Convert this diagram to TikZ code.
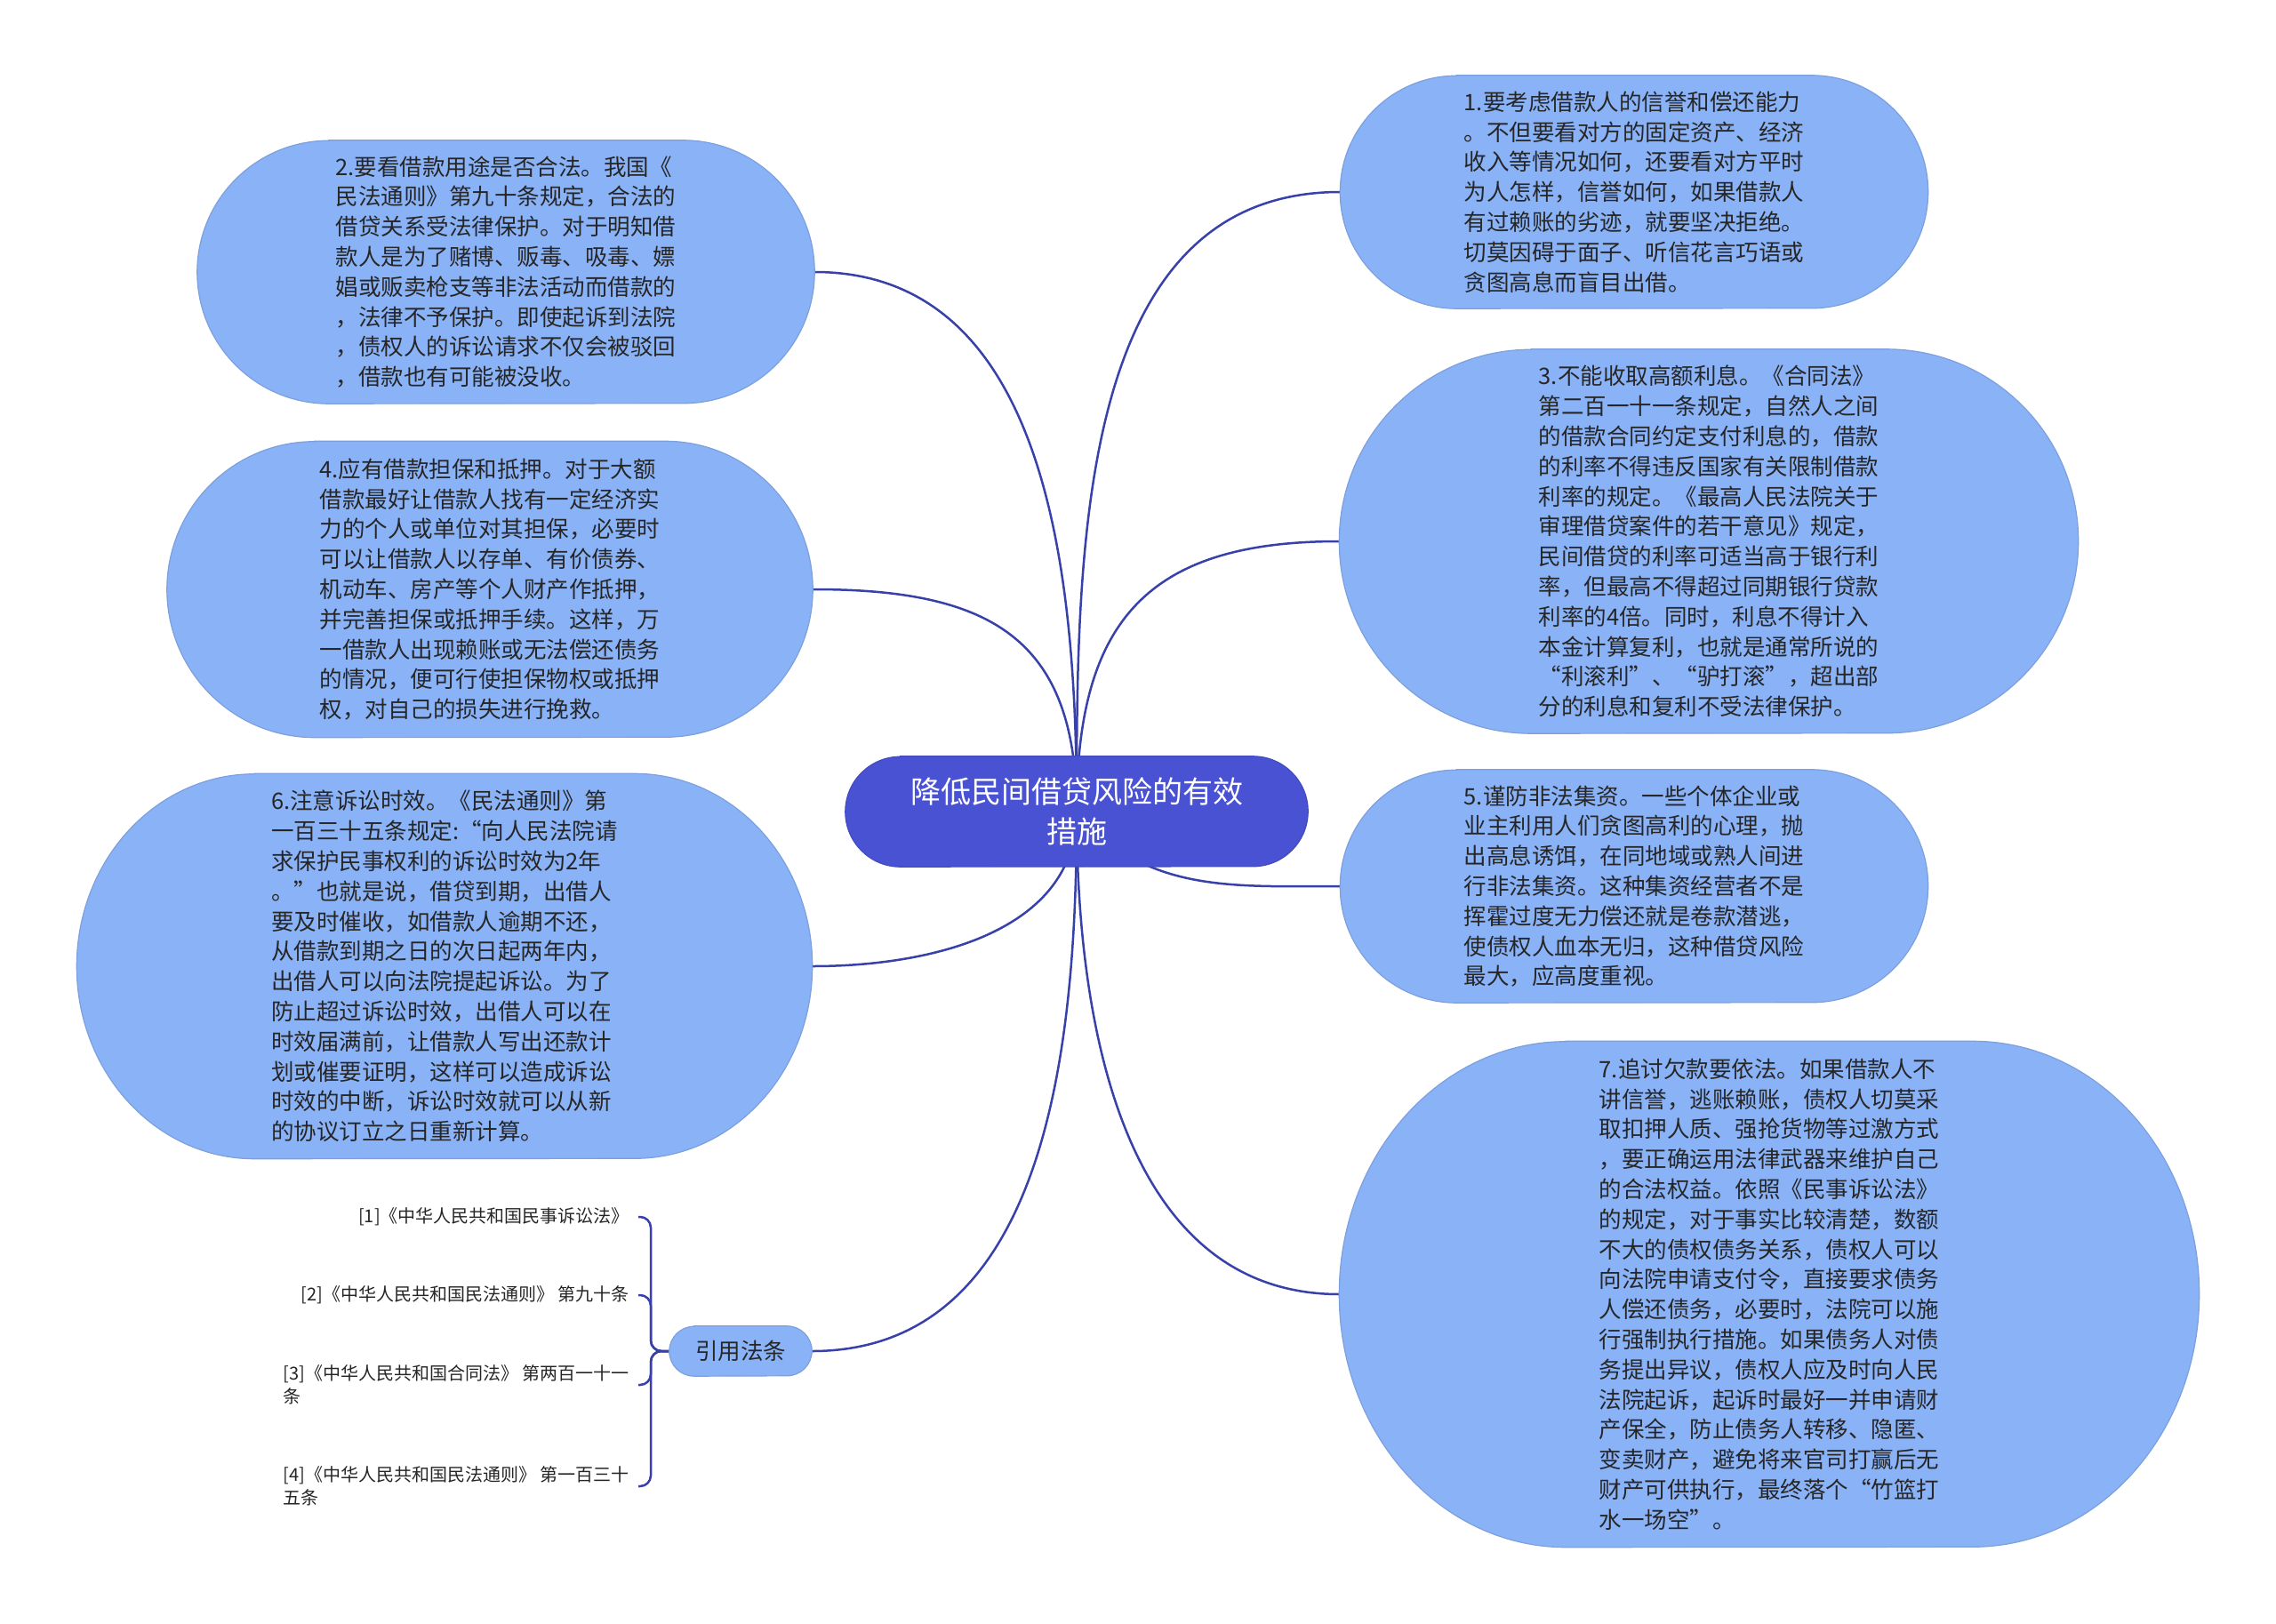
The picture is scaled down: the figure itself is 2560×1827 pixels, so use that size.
\documentclass[tikz,border=0pt]{standalone}
\usepackage{fontspec}
\setmainfont{Noto Sans CJK SC}
\usetikzlibrary{backgrounds}
\definecolor{topicblue}{RGB}{138,178,247}
\definecolor{hubblue}{RGB}{74,82,212}
\definecolor{linkblue}{RGB}{56,64,170}
\definecolor{textgray}{RGB}{38,38,38}
\tikzset{
  link/.style={draw=linkblue, line width=2.5pt},
  topic/.style={rectangle, inner sep=0pt, align=left, text=textgray,
    font=\fontsize{25.5pt}{33.8pt}\selectfont},
  hubnode/.style={rectangle, inner sep=0pt, align=center, text=white,
    font=\fontsize{34pt}{45pt}\selectfont},
  refnote/.style={inner xsep=10pt, inner ysep=2pt, align=left, text=textgray,
    font=\fontsize{20pt}{26pt}\selectfont},
}
\begin{document}
\begin{tikzpicture}[x=1pt, y=1pt]
\useasboundingbox (0,0) rectangle (2560,-1827);

\node[hubnode, minimum width=520pt, minimum height=124pt] (c) at (1211,-913) {降低民间借贷风险的有效\\措施};

% right side
\node[topic, minimum width=661pt, minimum height=262pt] (n1) at (1838,-216) {1.要考虑借款人的信誉和偿还能力\\。不但要看对方的固定资产、经济\\收入等情况如何，还要看对方平时\\为人怎样，信誉如何，如果借款人\\有过赖账的劣迹，就要坚决拒绝。\\切莫因碍于面子、听信花言巧语或\\贪图高息而盲目出借。};
\node[topic, minimum width=831pt, minimum height=432pt] (n3) at (1922,-609) {3.不能收取高额利息。《合同法》\\第二百一十一条规定，自然人之间\\的借款合同约定支付利息的，借款\\的利率不得违反国家有关限制借款\\利率的规定。《最高人民法院关于\\审理借贷案件的若干意见》规定，\\民间借贷的利率可适当高于银行利\\率，但最高不得超过同期银行贷款\\利率的4倍。同时，利息不得计入\\本金计算复利，也就是通常所说的\\“利滚利”、“驴打滚”，超出部\\分的利息和复利不受法律保护。};
\node[topic, minimum width=661pt, minimum height=262pt] (n5) at (1838,-997) {5.谨防非法集资。一些个体企业或\\业主利用人们贪图高利的心理，抛\\出高息诱饵，在同地域或熟人间进\\行非法集资。这种集资经营者不是\\挥霍过度无力偿还就是卷款潜逃，\\使债权人血本无归，这种借贷风险\\最大，应高度重视。};
\node[topic, minimum width=967pt, minimum height=569pt] (n7) at (1990,-1456) {7.追讨欠款要依法。如果借款人不\\讲信誉，逃账赖账，债权人切莫采\\取扣押人质、强抢货物等过激方式\\，要正确运用法律武器来维护自己\\的合法权益。依照《民事诉讼法》\\的规定，对于事实比较清楚，数额\\不大的债权债务关系，债权人可以\\向法院申请支付令，直接要求债务\\人偿还债务，必要时，法院可以施\\行强制执行措施。如果债务人对债\\务提出异议，债权人应及时向人民\\法院起诉，起诉时最好一并申请财\\产保全，防止债务人转移、隐匿、\\变卖财产，避免将来官司打赢后无\\财产可供执行，最终落个“竹篮打\\水一场空”。};

% left side
\node[topic, minimum width=694pt, minimum height=296pt] (n2) at (569,-306) {2.要看借款用途是否合法。我国《\\民法通则》第九十条规定，合法的\\借贷关系受法律保护。对于明知借\\款人是为了赌博、贩毒、吸毒、嫖\\娼或贩卖枪支等非法活动而借款的\\，法律不予保护。即使起诉到法院\\，债权人的诉讼请求不仅会被驳回\\，借款也有可能被没收。};
\node[topic, minimum width=726pt, minimum height=333pt] (n4) at (551,-663) {4.应有借款担保和抵押。对于大额\\借款最好让借款人找有一定经济实\\力的个人或单位对其担保，必要时\\可以让借款人以存单、有价债券、\\机动车、房产等个人财产作抵押，\\并完善担保或抵押手续。这样，万\\一借款人出现赖账或无法偿还债务\\的情况，便可行使担保物权或抵押\\权，对自己的损失进行挽救。};
\node[topic, minimum width=827pt, minimum height=433pt] (n6) at (500,-1087) {6.注意诉讼时效。《民法通则》第\\一百三十五条规定:“向人民法院请\\求保护民事权利的诉讼时效为2年\\。”也就是说，借贷到期，出借人\\要及时催收，如借款人逾期不还，\\从借款到期之日的次日起两年内，\\出借人可以向法院提起诉讼。为了\\防止超过诉讼时效，出借人可以在\\时效届满前，让借款人写出还款计\\划或催要证明，这样可以造成诉讼\\时效的中断，诉讼时效就可以从新\\的协议订立之日重新计算。};
\node[topic, align=center, minimum width=160pt, minimum height=56pt] (cite) at (833,-1520) {引用法条};

% references
\node[refnote, anchor=east] (r1) at (718,-1369) {[1]《中华人民共和国民事诉讼法》};
\node[refnote, anchor=east] (r2) at (718,-1457) {[2]《中华人民共和国民法通则》 第九十条};
\node[refnote, anchor=east] (r3) at (718,-1558) {[3]《中华人民共和国合同法》 第两百一十一\\条};
\node[refnote, anchor=east] (r4) at (718,-1672) {[4]《中华人民共和国民法通则》 第一百三十\\五条};
\coordinate (bar) at (732,-1520);

\begin{scope}[on background layer]
  \fill[white] (0,0) rectangle (2560,-1827);
  \foreach \nm/\dir/\loose in {n1/90/1, n3/90/1.3, n5/-50/1, n7/-90/1}
    \draw[link] (c.center) to[out=\dir, in=180, looseness=\loose] (\nm.west);
  \foreach \nm/\dir/\loose in {n2/90/1, n4/90/1.3, n6/-90/1, cite/-90/1}
    \draw[link] (c.center) to[out=\dir, in=0, looseness=\loose] (\nm.east);
  \foreach \r in {r1,r2,r3,r4}
    \draw[link, rounded corners=12pt] (cite.west) -- (cite.west -| bar) |- (\r.east);
  % bubbles
  \foreach \nm/\rx/\ry/\col in {c/62/62/hubblue, n1/131/131/topicblue, n3/216/216/topicblue,
      n5/131/131/topicblue, n7/255/284.5/topicblue, n2/148/148/topicblue,
      n4/166/166.5/topicblue, n6/200/216.5/topicblue, cite/28/28/topicblue}
    \filldraw[fill=\col, draw=\col!90!black, line width=1.2pt]
      ([xshift=\rx pt]\nm.north west) -- ([xshift=-\rx pt]\nm.north east)
      arc[start angle=90, end angle=-90, x radius=\rx pt, y radius=\ry pt]
      -- ([xshift=\rx pt]\nm.south west)
      arc[start angle=270, end angle=90, x radius=\rx pt, y radius=\ry pt] -- cycle;
\end{scope}
\end{tikzpicture}
\end{document}
